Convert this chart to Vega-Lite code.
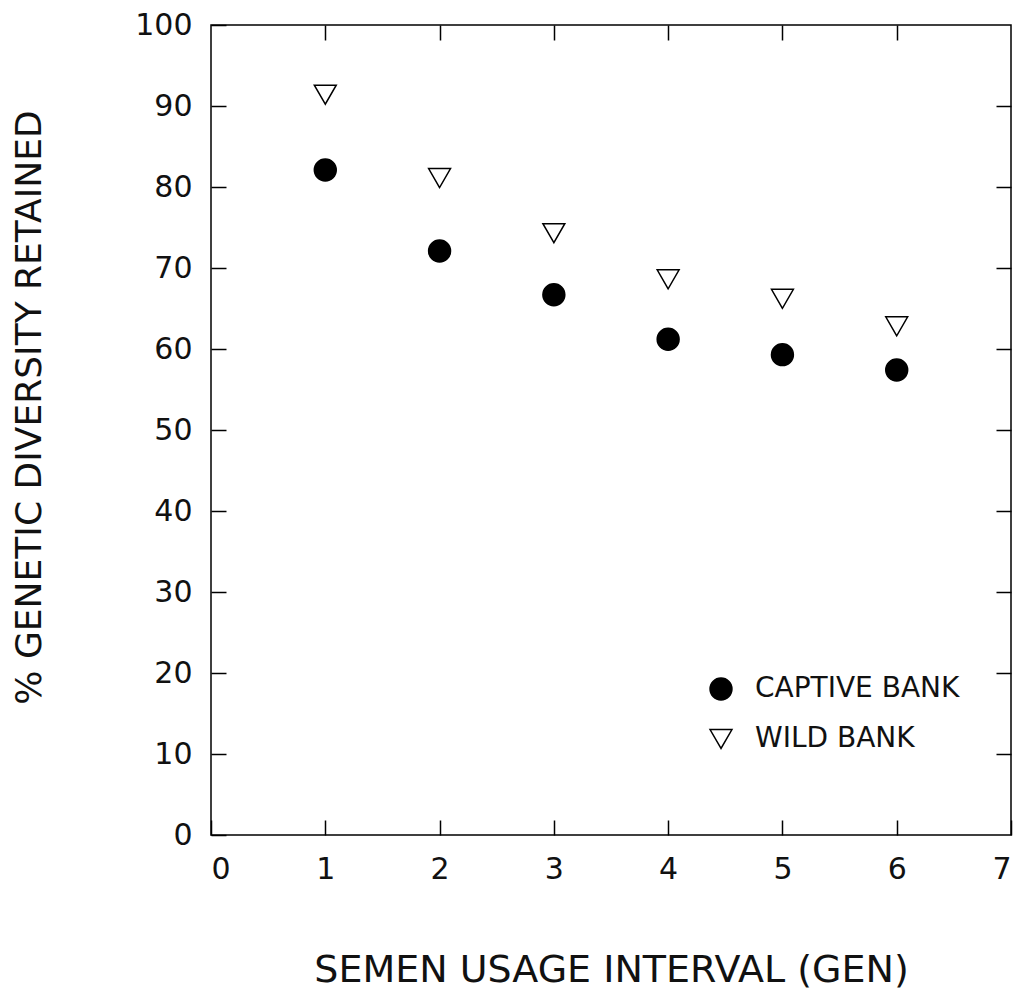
{
  "$schema": "https://vega.github.io/schema/vega-lite/v6.json",
  "autosize": "none",
  "width": 800,
  "height": 810,
  "padding": {"left": 211, "top": 25, "right": 7, "bottom": 163},
  "background": "white",
  "config": {
    "view": {"stroke": "black", "strokeWidth": 1.5},
    "font": "DejaVu Sans",
    "axis": {
      "grid": false,
      "domain": false,
      "tickColor": "black",
      "tickWidth": 1.5,
      "tickSize": -15,
      "labelFont": "DejaVu Sans",
      "labelFontSize": 30,
      "labelColor": "#111",
      "labelFontWeight": "normal",
      "titleFont": "DejaVu Sans",
      "titleFontWeight": "normal",
      "titleColor": "#111"
    }
  },
  "data": {
    "values": [
      {"gen": 1, "value": 82.1, "bank": "CAPTIVE BANK"},
      {"gen": 2, "value": 72.1, "bank": "CAPTIVE BANK"},
      {"gen": 3, "value": 66.7, "bank": "CAPTIVE BANK"},
      {"gen": 4, "value": 61.2, "bank": "CAPTIVE BANK"},
      {"gen": 5, "value": 59.3, "bank": "CAPTIVE BANK"},
      {"gen": 6, "value": 57.4, "bank": "CAPTIVE BANK"},
      {"gen": 1, "value": 91.4, "bank": "WILD BANK"},
      {"gen": 2, "value": 81.1, "bank": "WILD BANK"},
      {"gen": 3, "value": 74.3, "bank": "WILD BANK"},
      {"gen": 4, "value": 68.6, "bank": "WILD BANK"},
      {"gen": 5, "value": 66.2, "bank": "WILD BANK"},
      {"gen": 6, "value": 62.8, "bank": "WILD BANK"}
    ]
  },
  "layer": [
    {
      "mark": {"type": "point", "size": 480, "strokeWidth": 1.5, "opacity": 1, "filled": true},
      "encoding": {
        "x": {
          "field": "gen", "type": "quantitative",
          "scale": {"domain": [0, 7], "nice": false, "zero": false},
          "axis": {"orient": "bottom", "values": [0, 1, 2, 3, 4, 5, 6, 7], "labelPadding": 34, "title": "SEMEN USAGE INTERVAL (GEN)", "titleFontSize": 38, "titlePadding": 67}
        },
        "y": {
          "field": "value", "type": "quantitative",
          "scale": {"domain": [0, 100], "nice": false},
          "axis": {"orient": "left", "values": [0, 10, 20, 30, 40, 50, 60, 70, 80, 90, 100], "labelPadding": 34, "title": "% GENETIC DIVERSITY RETAINED", "titleFontSize": 36, "titlePadding": 86, "titleY": 382}
        },
        "stroke": {"value": "black"},
        "shape": {
          "field": "bank", "type": "nominal",
          "scale": {"domain": ["CAPTIVE BANK", "WILD BANK"], "range": ["circle", "triangle-down"]},
          "legend": {
            "title": null, "orient": "none", "legendX": 496, "legendY": 650,
            "labelFontSize": 28, "labelFont": "DejaVu Sans", "labelColor": "#111", "labelLimit": 500,
            "symbolSize": 480, "symbolStrokeColor": "black", "symbolStrokeWidth": 1.5, "symbolOpacity": 1,
            "labelOffset": 20, "rowPadding": 22, "padding": 0,
            "encode": {"symbols": {"update": {"stroke": {"value": "black"}, "strokeWidth": {"value": 1.5}, "opacity": {"value": 1}, "strokeOpacity": {"value": 1}, "fillOpacity": {"value": 1}}}}
          }
        },
        "fill": {
          "field": "bank", "type": "nominal",
          "scale": {"domain": ["CAPTIVE BANK", "WILD BANK"], "range": ["black", "white"]},
          "legend": {
            "title": null, "orient": "none", "legendX": 496, "legendY": 650,
            "labelFontSize": 28, "labelFont": "DejaVu Sans", "labelColor": "#111", "labelLimit": 500,
            "symbolSize": 480, "symbolStrokeColor": "black", "symbolStrokeWidth": 1.5, "symbolOpacity": 1,
            "labelOffset": 20, "rowPadding": 22, "padding": 0,
            "encode": {"symbols": {"update": {"stroke": {"value": "black"}, "strokeWidth": {"value": 1.5}, "opacity": {"value": 1}, "strokeOpacity": {"value": 1}, "fillOpacity": {"value": 1}}}}
          }
        }
      }
    },
    {
      "mark": {"type": "point", "opacity": 0},
      "encoding": {
        "x": {
          "field": "gen", "type": "quantitative",
          "axis": {"orient": "top", "values": [1, 2, 3, 4, 5, 6], "labels": false, "title": null}
        },
        "y": {
          "field": "value", "type": "quantitative",
          "axis": {"orient": "right", "values": [10, 20, 30, 40, 50, 60, 70, 80, 90], "labels": false, "title": null}
        }
      }
    }
  ],
  "resolve": {"axis": {"x": "independent", "y": "independent"}}
}
